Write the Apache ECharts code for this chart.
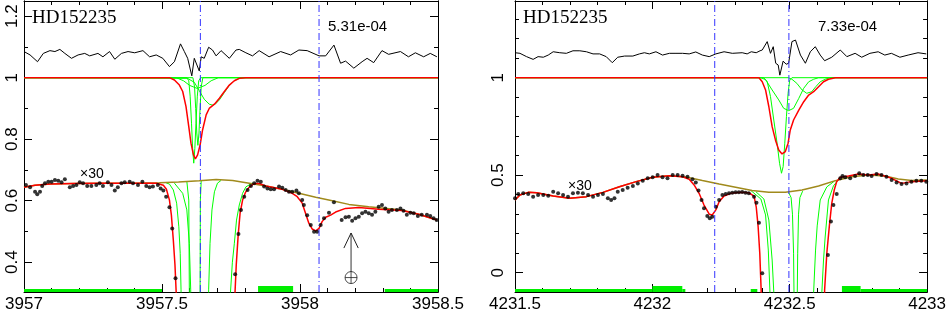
<!DOCTYPE html>
<html><head><meta charset="utf-8">
<script src="https://cdn.jsdelivr.net/npm/echarts@6/dist/echarts.min.js"></script>
<style>html,body{margin:0;padding:0;background:#fff}#c{width:949px;height:315px}</style>
</head><body><div id="c"></div>
<script>
// ================= DATA =================
const leftXRange = [3957, 3958.5];
const rightXRange = [4231.5, 4233];
const leftYRange = [0.3031, 1.2494];
const rightYRange = [-0.099, 1.3933];
const leftYTickLabels = [0.4, 0.6, 0.8, 1, 1.2];
const leftYMinorTicks = [0.4, 0.5, 0.6, 0.7, 0.8, 0.9, 1, 1.1, 1.2];
const rightYTickLabels = [0, 0.5, 1];
const rightYMinorTicks = [0, 0.1, 0.2, 0.3, 0.4, 0.5, 0.6, 0.7, 0.8, 0.9, 1, 1.1, 1.2, 1.3];
const starName = 'HD152235';
const leftNote = '5.31e-04';
const rightNote = '7.33e-04';
const scaleNote = '×30';
const leftMarkers = [3957.639, 3958.069];
const rightMarkers = [4232.227, 4232.497];

// residuals (top black line)
const residLeft = [[3957.000,1.085],[3957.022,1.074],[3957.049,1.052],[3957.070,1.079],[3957.094,1.088],[3957.112,1.085],[3957.130,1.092],[3957.148,1.079],[3957.172,1.063],[3957.196,1.074],[3957.220,1.079],[3957.238,1.071],[3957.268,1.079],[3957.286,1.068],[3957.310,1.085],[3957.329,1.060],[3957.353,1.079],[3957.377,1.085],[3957.401,1.081],[3957.431,1.088],[3957.455,1.068],[3957.479,1.074],[3957.503,1.063],[3957.527,1.036],[3957.545,1.052],[3957.567,1.110],[3957.581,1.085],[3957.593,1.063],[3957.608,1.006],[3957.617,1.063],[3957.635,1.022],[3957.642,1.068],[3957.653,1.063],[3957.669,1.099],[3957.683,1.090],[3957.696,1.071],[3957.714,1.088],[3957.744,1.063],[3957.768,1.090],[3957.780,1.092],[3957.804,1.081],[3957.828,1.071],[3957.852,1.088],[3957.888,1.068],[3957.930,1.085],[3957.966,1.074],[3957.996,1.090],[3958.026,1.088],[3958.069,1.071],[3958.093,1.071],[3958.123,1.106],[3958.147,1.047],[3958.165,1.054],[3958.195,1.031],[3958.225,1.052],[3958.243,1.063],[3958.267,1.049],[3958.297,1.088],[3958.321,1.076],[3958.364,1.085],[3958.393,1.068],[3958.418,1.081],[3958.448,1.068],[3958.472,1.079],[3958.496,1.068]];
const residRight = [[4231.500,1.128],[4231.518,1.125],[4231.542,1.108],[4231.566,1.094],[4231.584,1.108],[4231.603,1.105],[4231.621,1.116],[4231.639,1.133],[4231.663,1.128],[4231.687,1.125],[4231.711,1.138],[4231.736,1.138],[4231.760,1.133],[4231.784,1.122],[4231.808,1.122],[4231.832,1.108],[4231.854,1.077],[4231.874,1.105],[4231.899,1.111],[4231.929,1.111],[4231.953,1.122],[4231.971,1.128],[4231.989,1.122],[4232.013,1.133],[4232.037,1.116],[4232.062,1.125],[4232.086,1.125],[4232.110,1.125],[4232.134,1.122],[4232.158,1.132],[4232.182,1.116],[4232.207,1.108],[4232.231,1.122],[4232.261,1.133],[4232.291,1.125],[4232.327,1.128],[4232.345,1.122],[4232.360,1.133],[4232.378,1.128],[4232.392,1.138],[4232.400,1.142],[4232.418,1.185],[4232.430,1.125],[4232.440,1.159],[4232.449,1.074],[4232.458,1.065],[4232.464,1.013],[4232.476,1.085],[4232.487,1.069],[4232.496,1.074],[4232.508,1.185],[4232.521,1.193],[4232.539,1.116],[4232.557,1.074],[4232.575,1.133],[4232.593,1.159],[4232.611,1.116],[4232.627,1.087],[4232.653,1.105],[4232.684,1.142],[4232.708,1.108],[4232.738,1.125],[4232.762,1.105],[4232.792,1.125],[4232.822,1.133],[4232.846,1.116],[4232.870,1.125],[4232.901,1.105],[4232.931,1.116],[4232.967,1.128],[4232.997,1.122]];

// unscaled model (top red) and components (top green)
const modelLeft = [[3957.0,1.0],[3957.527,1.0],[3957.545,0.9925],[3957.563,0.976],[3957.575,0.955],[3957.587,0.906],[3957.597,0.841],[3957.605,0.787],[3957.614,0.749],[3957.621,0.736],[3957.629,0.749],[3957.638,0.781],[3957.647,0.830],[3957.660,0.879],[3957.671,0.900],[3957.690,0.914],[3957.708,0.933],[3957.726,0.955],[3957.744,0.976],[3957.762,0.990],[3957.780,0.998],[3957.804,1.0],[3958.5,1.0]];
const compLeft1 = [[3957.0,1],[3957.590,1],[3957.597,0.99],[3957.602,0.94],[3957.607,0.85],[3957.611,0.77],[3957.615,0.722],[3957.619,0.77],[3957.623,0.85],[3957.628,0.94],[3957.633,0.99],[3957.640,1],[3958.5,1]];
const compLeft2 = [[3957.0,1],[3957.612,1],[3957.618,0.97],[3957.622,0.9],[3957.626,0.82],[3957.630,0.78],[3957.634,0.82],[3957.638,0.9],[3957.642,0.97],[3957.648,1],[3958.5,1]];
const compLeft3 = [[3957.0,1],[3957.592,0.998],[3957.617,0.985],[3957.635,0.958],[3957.653,0.930],[3957.671,0.914],[3957.682,0.911],[3957.693,0.914],[3957.708,0.928],[3957.726,0.952],[3957.744,0.975],[3957.762,0.990],[3957.780,0.998],[3957.800,1],[3958.5,1]];
const compLeft4 = [[3957.0,1],[3957.552,1],[3957.578,0.99],[3957.600,0.975],[3957.628,0.965],[3957.656,0.975],[3957.678,0.99],[3957.704,1],[3958.5,1]];
const modelRight = [[4231.5,1],[4232.388,1],[4232.400,0.979],[4232.412,0.937],[4232.424,0.851],[4232.436,0.749],[4232.448,0.681],[4232.460,0.629],[4232.472,0.609],[4232.484,0.621],[4232.494,0.664],[4232.502,0.732],[4232.514,0.783],[4232.533,0.834],[4232.551,0.877],[4232.569,0.911],[4232.587,0.928],[4232.605,0.954],[4232.623,0.979],[4232.641,0.992],[4232.666,1.0],[4233,1]];
const compRight1 = [[4231.5,1],[4232.405,1],[4232.418,0.98],[4232.430,0.903],[4232.442,0.783],[4232.454,0.664],[4232.463,0.561],[4232.470,0.510],[4232.476,0.544],[4232.482,0.664],[4232.488,0.80],[4232.494,0.92],[4232.500,0.988],[4232.508,1],[4233,1]];
const compRight2 = [[4231.5,1],[4232.395,1],[4232.412,0.99],[4232.436,0.937],[4232.460,0.886],[4232.478,0.843],[4232.496,0.831],[4232.514,0.843],[4232.533,0.894],[4232.551,0.946],[4232.569,0.979],[4232.587,0.992],[4232.605,1],[4233,1]];
const compRight3 = [[4231.5,1],[4232.495,1],[4232.508,0.992],[4232.526,0.971],[4232.545,0.937],[4232.562,0.92],[4232.580,0.928],[4232.595,0.954],[4232.611,0.979],[4232.629,0.992],[4232.645,1],[4233,1]];

// x30 data points
const dotsLeft = [[3957.007,0.651],[3957.022,0.644],[3957.040,0.629],[3957.048,0.621],[3957.058,0.629],[3957.066,0.648],[3957.076,0.657],[3957.088,0.662],[3957.100,0.662],[3957.112,0.667],[3957.124,0.665],[3957.136,0.660],[3957.148,0.670],[3957.166,0.644],[3957.178,0.648],[3957.190,0.651],[3957.202,0.660],[3957.214,0.657],[3957.229,0.648],[3957.244,0.648],[3957.262,0.651],[3957.274,0.657],[3957.286,0.648],[3957.304,0.660],[3957.317,0.651],[3957.329,0.633],[3957.340,0.644],[3957.353,0.657],[3957.365,0.660],[3957.383,0.662],[3957.395,0.657],[3957.413,0.651],[3957.429,0.662],[3957.443,0.648],[3957.455,0.644],[3957.467,0.646],[3957.485,0.651],[3957.495,0.640],[3957.505,0.633],[3957.515,0.613],[3957.527,0.579],[3957.537,0.510],[3957.549,0.348],[3957.765,0.361],[3957.777,0.492],[3957.786,0.570],[3957.798,0.613],[3957.810,0.635],[3957.822,0.648],[3957.834,0.657],[3957.846,0.665],[3957.858,0.662],[3957.870,0.646],[3957.882,0.640],[3957.894,0.637],[3957.906,0.637],[3957.924,0.646],[3957.936,0.642],[3957.948,0.635],[3957.960,0.629],[3957.972,0.629],[3957.987,0.633],[3957.996,0.624],[3958.008,0.602],[3958.014,0.586],[3958.026,0.553],[3958.039,0.521],[3958.051,0.499],[3958.062,0.499],[3958.075,0.521],[3958.087,0.543],[3958.105,0.561],[3958.123,0.595],[3958.151,0.537],[3958.165,0.546],[3958.177,0.548],[3958.189,0.535],[3958.201,0.543],[3958.213,0.548],[3958.225,0.559],[3958.237,0.564],[3958.249,0.559],[3958.261,0.554],[3958.273,0.564],[3958.285,0.580],[3958.297,0.586],[3958.309,0.575],[3958.321,0.564],[3958.333,0.570],[3958.351,0.570],[3958.364,0.575],[3958.375,0.567],[3958.387,0.554],[3958.400,0.561],[3958.412,0.559],[3958.427,0.550],[3958.441,0.554],[3958.460,0.554],[3958.472,0.550],[3958.484,0.543],[3958.495,0.537]];
const dotsRight = [[4231.500,0.382],[4231.512,0.404],[4231.530,0.407],[4231.548,0.404],[4231.566,0.390],[4231.584,0.398],[4231.603,0.398],[4231.621,0.395],[4231.639,0.415],[4231.657,0.407],[4231.675,0.398],[4231.693,0.390],[4231.711,0.407],[4231.729,0.410],[4231.747,0.407],[4231.766,0.398],[4231.784,0.390],[4231.802,0.398],[4231.820,0.404],[4231.838,0.382],[4231.850,0.373],[4231.862,0.382],[4231.874,0.415],[4231.892,0.424],[4231.910,0.436],[4231.929,0.445],[4231.947,0.458],[4231.965,0.472],[4231.983,0.484],[4232.001,0.489],[4232.019,0.501],[4232.037,0.489],[4232.055,0.484],[4232.074,0.501],[4232.092,0.501],[4232.110,0.497],[4232.128,0.492],[4232.146,0.479],[4232.158,0.462],[4232.168,0.421],[4232.179,0.373],[4232.188,0.330],[4232.200,0.291],[4232.209,0.279],[4232.218,0.287],[4232.231,0.338],[4232.243,0.373],[4232.255,0.398],[4232.267,0.404],[4232.279,0.407],[4232.291,0.410],[4232.303,0.412],[4232.315,0.412],[4232.327,0.414],[4232.339,0.410],[4232.351,0.407],[4232.370,0.390],[4232.379,0.359],[4232.388,0.256],[4232.400,-0.003],[4232.639,0.091],[4232.650,0.262],[4232.659,0.347],[4232.671,0.404],[4232.684,0.484],[4232.692,0.496],[4232.702,0.489],[4232.720,0.484],[4232.738,0.496],[4232.753,0.510],[4232.768,0.501],[4232.784,0.501],[4232.798,0.496],[4232.816,0.506],[4232.834,0.501],[4232.852,0.492],[4232.871,0.475],[4232.889,0.462],[4232.907,0.455],[4232.925,0.458],[4232.943,0.467],[4232.961,0.472],[4232.979,0.472],[4232.997,0.467]];

// x30 continuum, fit and components
const contLeft = [[3957.000,0.644],[3957.040,0.650],[3957.094,0.654],[3957.180,0.656],[3957.274,0.657],[3957.400,0.657],[3957.491,0.658],[3957.560,0.661],[3957.635,0.665],[3957.696,0.669],[3957.756,0.666],[3957.816,0.657],[3957.876,0.648],[3957.936,0.637],[3957.996,0.624],[3958.057,0.611],[3958.117,0.600],[3958.177,0.588],[3958.249,0.580],[3958.369,0.570],[3958.430,0.556],[3958.496,0.537]];
const fitLeft = [[3957.000,0.644],[3957.040,0.650],[3957.094,0.654],[3957.180,0.656],[3957.274,0.657],[3957.400,0.657],[3957.480,0.657],[3957.505,0.650],[3957.516,0.637],[3957.527,0.602],[3957.534,0.553],[3957.541,0.472],[3957.547,0.391],[3957.552,0.290],[3957.556,0.15],[3957.760,0.15],[3957.764,0.290],[3957.769,0.391],[3957.776,0.488],[3957.783,0.560],[3957.792,0.602],[3957.803,0.628],[3957.816,0.644],[3957.834,0.656],[3957.852,0.656],[3957.876,0.648],[3957.936,0.637],[3957.972,0.624],[3957.990,0.613],[3958.008,0.592],[3958.020,0.559],[3958.032,0.527],[3958.044,0.508],[3958.057,0.502],[3958.069,0.510],[3958.080,0.532],[3958.093,0.546],[3958.111,0.553],[3958.129,0.563],[3958.165,0.575],[3958.213,0.578],[3958.285,0.572],[3958.369,0.568],[3958.430,0.556],[3958.496,0.537]];
const compX30Left1 = [[3957.515,0.658],[3957.527,0.654],[3957.541,0.635],[3957.553,0.592],[3957.561,0.515],[3957.566,0.429],[3957.569,0.31],[3957.571,0.15],[3957.746,0.15],[3957.748,0.30],[3957.755,0.40],[3957.762,0.46],[3957.770,0.537],[3957.780,0.586],[3957.792,0.624],[3957.804,0.645],[3957.828,0.658]];
const compX30Left2 = [[3957.545,0.657],[3957.551,0.654],[3957.575,0.624],[3957.590,0.570],[3957.599,0.461],[3957.604,0.31],[3957.606,0.15],[3957.667,0.15],[3957.669,0.31],[3957.674,0.461],[3957.681,0.570],[3957.690,0.629],[3957.701,0.657],[3957.714,0.666]];
const compX30Left3 = [[3957.590,0.663],[3957.593,0.662],[3957.597,0.602],[3957.599,0.31],[3957.600,0.15],[3957.636,0.15],[3957.638,0.31],[3957.639,0.602],[3957.642,0.664]];
const contRight = [[4231.500,0.373],[4231.518,0.398],[4231.548,0.412],[4231.579,0.410],[4231.639,0.393],[4231.699,0.382],[4231.760,0.390],[4231.820,0.412],[4231.880,0.441],[4231.941,0.467],[4232.001,0.489],[4232.062,0.497],[4232.122,0.491],[4232.182,0.473],[4232.243,0.455],[4232.303,0.438],[4232.363,0.421],[4232.424,0.412],[4232.484,0.412],[4232.545,0.424],[4232.605,0.445],[4232.666,0.472],[4232.726,0.492],[4232.786,0.501],[4232.847,0.496],[4232.895,0.481],[4232.944,0.473],[4232.999,0.475]];
const fitRight = [[4231.500,0.373],[4231.518,0.398],[4231.548,0.412],[4231.579,0.410],[4231.639,0.393],[4231.699,0.382],[4231.760,0.390],[4231.820,0.412],[4231.880,0.441],[4231.941,0.467],[4232.001,0.489],[4232.062,0.497],[4232.110,0.492],[4232.134,0.479],[4232.152,0.450],[4232.170,0.407],[4232.188,0.347],[4232.207,0.300],[4232.218,0.296],[4232.231,0.322],[4232.243,0.364],[4232.261,0.393],[4232.285,0.407],[4232.321,0.412],[4232.351,0.410],[4232.370,0.393],[4232.378,0.338],[4232.385,0.236],[4232.391,0.100],[4232.396,-0.089],[4232.398,-0.3],[4232.625,-0.3],[4232.627,-0.089],[4232.635,0.100],[4232.644,0.236],[4232.653,0.356],[4232.662,0.424],[4232.671,0.467],[4232.684,0.489],[4232.714,0.496],[4232.750,0.506],[4232.786,0.501],[4232.822,0.506],[4232.871,0.484],[4232.907,0.458],[4232.943,0.467],[4232.999,0.472]];
const compX30Right1 = [[4232.359,0.421],[4232.395,0.378],[4232.412,0.296],[4232.422,0.116],[4232.428,-0.099],[4232.430,-0.3],[4232.585,-0.3],[4232.587,-0.099],[4232.594,0.116],[4232.600,0.240],[4232.611,0.373],[4232.635,0.440],[4232.663,0.470]];
const compX30Right2 = [[4232.377,0.415],[4232.406,0.378],[4232.424,0.270],[4232.436,0.065],[4232.442,-0.099],[4232.444,-0.3],[4232.612,-0.3],[4232.617,-0.099],[4232.623,0.065],[4232.629,0.183],[4232.641,0.373],[4232.659,0.445],[4232.684,0.488]];
const compX30Right3 = [[4232.496,0.412],[4232.505,0.385],[4232.510,0.30],[4232.514,0.10],[4232.5155,-0.099],[4232.516,-0.3],[4232.527,-0.3],[4232.5275,-0.099],[4232.529,0.10],[4232.532,0.30],[4232.537,0.385],[4232.547,0.418]];

// fitting-region masks along the bottom: [from, to, wide(1)/narrow(0)]
const maskLeft = [[3957.0,3957.5,0],[3957.848,3957.975,1],[3958.307,3958.5,0]];
const maskRight = [[4231.5,4232.0,0],[4232.0,4232.109,1],[4232.109,4232.12,0],[4232.358,4232.382,0],[4232.690,4232.758,1],[4232.758,4233.0,0]];

// telluric arrow (left panel): shaft, head, symbol position
const arrowShaft = [[3958.185,0.368],[3958.185,0.495]];
const arrowHead = [[3958.159,0.446],[3958.185,0.495],[3958.211,0.446]];
const telluricMark = [[3958.185,0.350]];

// ================= CHART =================
const FONT = '"Liberation Sans", Arial, sans-serif';
const chart = echarts.init(document.getElementById('c'), null, {renderer:'canvas'});
const plain = v => String(+v.toFixed(4));

function xAx(grid, range, pos, showLabel){
  return {type:'value', gridIndex:grid, position:pos, min:range[0], max:range[1], interval:0.5,
    axisLine:{show:true, onZero:false, lineStyle:{color:'#000', width:1}},
    axisTick:{show:true, inside:true, length:8, lineStyle:{color:'#000', width:1}},
    minorTick:{show:true, splitNumber:5, length:4, lineStyle:{color:'#000', width:1}},
    axisLabel:{show:showLabel, margin:4, color:'#000', fontFamily:FONT, fontSize:17,
      showMinLabel:true, showMaxLabel:true, formatter:plain},
    splitLine:{show:false}, minorSplitLine:{show:false}};
}
function yAx(grid, range, pos, labelVals, tickVals, len, showLabel, margin){
  return {type:'value', gridIndex:grid, position:pos, min:range[0], max:range[1],
    axisLine:{show:true, onZero:false, lineStyle:{color:'#000', width:1}},
    axisTick:{show:true, inside:true, length:len, customValues:tickVals, lineStyle:{color:'#000', width:1}},
    axisLabel:{show:showLabel, customValues:labelVals, rotate:90, margin:margin, color:'#000',
      fontFamily:FONT, fontSize:17, formatter:plain},
    splitLine:{show:false}};
}

const xAxes = [
  xAx(0, leftXRange, 'bottom', true), xAx(0, leftXRange, 'top', false),
  xAx(1, rightXRange, 'bottom', true), xAx(1, rightXRange, 'top', false)
];
const yAxes = [
  yAx(0, leftYRange, 'left', leftYTickLabels, leftYTickLabels, 8, true, 3),
  yAx(0, leftYRange, 'left', leftYTickLabels, leftYMinorTicks, 4, false, 3),
  yAx(0, leftYRange, 'right', leftYTickLabels, leftYTickLabels, 8, false, 3),
  yAx(0, leftYRange, 'right', leftYTickLabels, leftYMinorTicks, 4, false, 3),
  yAx(1, rightYRange, 'left', rightYTickLabels, rightYTickLabels, 8, true, 8),
  yAx(1, rightYRange, 'left', rightYTickLabels, rightYMinorTicks, 4, false, 8),
  yAx(1, rightYRange, 'right', rightYTickLabels, rightYTickLabels, 8, false, 8),
  yAx(1, rightYRange, 'right', rightYTickLabels, rightYMinorTicks, 4, false, 8)
];

const AX = [{x:0, y:0}, {x:2, y:4}];
function line(g, data, color, width, z, extra){
  return Object.assign({type:'line', xAxisIndex:AX[g].x, yAxisIndex:AX[g].y, data:data,
    showSymbol:false, symbol:'none', clip:true, silent:true, z:z,
    lineStyle:{color:color, width:width}}, extra || {});
}
function dots(g, data){
  return {type:'scatter', xAxisIndex:AX[g].x, yAxisIndex:AX[g].y, data:data, symbol:'circle',
    symbolSize:4, itemStyle:{color:'#000'}, clip:true, silent:true, z:6};
}
// vertical dash-dot marker drawn as a line across the whole y range of its panel
function marker(g, x, yRange){
  return line(g, [[x, yRange[0]], [x, yRange[1]]], '#3434ff', 1, 8,
    {lineStyle:{color:'#3434ff', width:1, type:[7,3,1,3]}, itemStyle:{color:'#3434ff'}});
}
function mask(g, data){
  return {type:'custom', xAxisIndex:AX[g].x, yAxisIndex:AX[g].y, data:data, silent:true, z:7,
    dimensions:['from','to','wide'], encode:{x:['from','to']},
    renderItem: function(params, api){
      const cs = params.coordSys;
      const bottom = cs.y + cs.height;
      const x0 = api.coord([api.value(0), 0])[0];
      const x1 = api.coord([api.value(1), 0])[0];
      const h = api.value(2) ? 6 : 3;
      return {type:'rect', shape:{x:x0, y:bottom - h, width:x1 - x0, height:h},
        style:{fill:'#00ee00'}};
    }};
}

const GREEN = '#00ff00', RED = '#ff0000', CONT = '#a08a1c';
const series = [
  // left panel
  line(0, compLeft4, GREEN, 1, 2), line(0, compLeft3, GREEN, 1, 2),
  line(0, compLeft2, GREEN, 1, 2), line(0, compLeft1, GREEN, 1, 2),
  line(0, compX30Left1, GREEN, 1, 2), line(0, compX30Left2, GREEN, 1, 2), line(0, compX30Left3, GREEN, 1, 2),
  line(0, contLeft, CONT, 1.5, 3),
  line(0, modelLeft, RED, 1.5, 4),
  line(0, fitLeft, RED, 1.5, 4),
  dots(0, dotsLeft),
  line(0, residLeft, '#000', 1, 5),
  line(0, arrowShaft, '#555', 1.2, 5),
  line(0, arrowHead, '#222', 1, 5),
  {type:'scatter', xAxisIndex:0, yAxisIndex:0, data:telluricMark, silent:true, z:6,
   symbol:'path://M0,-10A10,10,0,1,1,0,10A10,10,0,1,1,0,-10ZM-10,0L10,0M0,-10L0,10',
   symbolSize:12, itemStyle:{color:'rgba(0,0,0,0)', borderColor:'#222', borderWidth:1}},
  mask(0, maskLeft),
  ...leftMarkers.map(v => marker(0, v, leftYRange)),
  // right panel
  line(1, compRight3, GREEN, 1, 2), line(1, compRight2, GREEN, 1, 2), line(1, compRight1, GREEN, 1, 2),
  line(1, compX30Right1, GREEN, 1, 2), line(1, compX30Right2, GREEN, 1, 2), line(1, compX30Right3, GREEN, 1, 2),
  line(1, contRight, CONT, 1.5, 3),
  line(1, modelRight, RED, 1.5, 4),
  line(1, fitRight, RED, 1.5, 4),
  dots(1, dotsRight),
  line(1, residRight, '#000', 1, 5),
  mask(1, maskRight),
  ...rightMarkers.map(v => marker(1, v, rightYRange))
];

function txt(x, y, s, font){
  return {type:'text', x:x, y:y, silent:true, z:100,
    style:{text:s, font:font, fill:'#000', verticalAlign:'middle', align:'left'}};
}
const option = {
  animation:false,
  backgroundColor:'#fff',
  grid:[{left:24, top:1, width:414, height:291, show:false},
        {left:515, top:1, width:414, height:291, show:false}],
  xAxis:xAxes, yAxis:yAxes, series:series,
  graphic:[
    txt(32, 18.5, starName, '19px "Liberation Serif", "Times New Roman", serif'),
    txt(523, 18.5, starName, '19px "Liberation Serif", "Times New Roman", serif'),
    txt(328, 27, leftNote, '15px ' + FONT),
    txt(818, 27, rightNote, '15px ' + FONT),
    txt(80, 174, scaleNote, '14px ' + FONT),
    txt(568, 186.5, scaleNote, '14px ' + FONT)
  ]
};
chart.setOption(option);
</script>
</body></html>
